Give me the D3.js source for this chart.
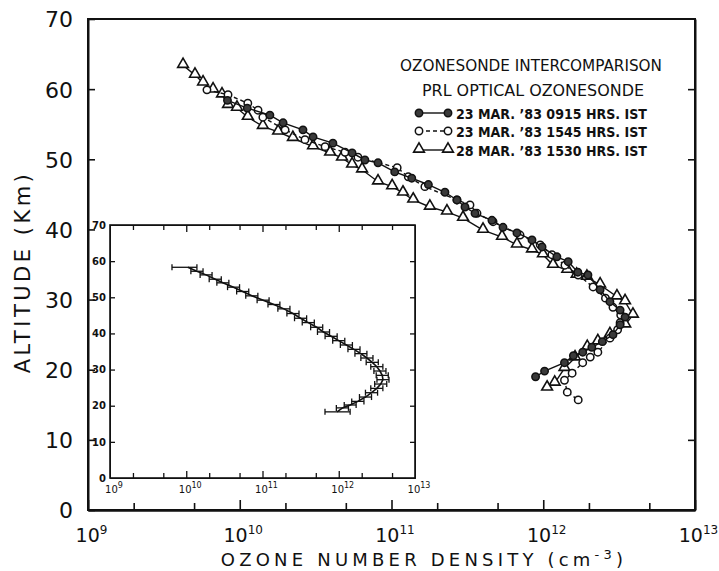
<!DOCTYPE html>
<html>
<head>
<meta charset="utf-8">
<script src="https://cdn.jsdelivr.net/npm/d3@7"></script>
<style>
  body { margin: 0; background: #fff; }
  svg { display: block; }
  text { font-family: "DejaVu Sans", sans-serif; fill: #111; }
  .axis path, .axis line { stroke: #111; }
</style>
</head>
<body>
<svg id="chart" width="719" height="571"></svg>
<script>
/*******************************************************************************
 * Data: altitude (km) and ozone number density (cm^-3)
 *******************************************************************************/
const seriesLabels = ['23 MAR. \u201983  0915 HRS. IST',
                      '23 MAR. \u201983  1545 HRS. IST',
                      '28 MAR. \u201983  1530 HRS. IST'];

// 23 MAR '83 0915 HRS IST (filled circles)
const morningAltitude = [58.4, 57.3, 56.3, 55.2, 54.2, 53.2, 52.3, 50.9, 49.9, 49.5, 48.2, 47.3, 46.4,
  45.3, 44.2, 43.2, 42.3, 41.3, 40.3, 39.5, 38.5, 37.5, 36.1, 35.4, 33.9, 33.5, 31.4, 29.7, 28.5,
  27.5, 26.4, 25.0, 24.0, 23.2, 22.5, 22.0, 21.0, 19.8, 19.0];
const morningDensity = [8.3e9, 1.12e10, 1.58e10, 1.93e10, 2.61e10, 3.04e10, 4.11e10, 5.5e10, 6.68e10, 8.15e10,
  1.05e11, 1.36e11, 1.75e11, 2.25e11, 2.7e11, 3.05e11, 3.55e11, 4.59e11, 5.43e11, 6.71e11, 8.43e11,
  9.82e11, 1.23e12, 1.46e12, 1.69e12, 1.97e12, 2.37e12, 2.75e12, 3.21e12, 3.46e12, 3.21e12, 2.88e12,
  2.45e12, 2.09e12, 1.82e12, 1.58e12, 1.38e12, 1.02e12, 8.9e11];

// 23 MAR '83 1545 HRS IST (open circles, dashed)
const afternoonAltitude = [59.9, 59.2, 58.0, 57.0, 56.0, 54.2, 52.8, 51.8, 51.0, 50.3, 48.8, 47.5, 46.1,
  44.2, 43.5, 42.3, 41.1, 39.2, 37.8, 36.4, 34.9, 33.5, 31.8, 30.2, 28.9, 27.8, 26.7, 25.7, 24.5,
  22.5, 21.8, 21.0, 19.5, 18.5, 16.8, 15.7];
const afternoonDensity = [6.08e9, 8.37e9, 1.13e10, 1.32e10, 1.42e10, 1.99e10, 2.69e10, 3.65e10, 4.94e10,
  6.01e10, 1.09e11, 1.29e11, 1.66e11, 2.7e11, 3.29e11, 3.66e11, 4.67e11, 7.03e11, 9.55e11, 1.14e12,
  1.39e12, 1.7e12, 2.13e12, 2.57e12, 2.88e12, 3.24e12, 3.21e12, 3.09e12, 2.75e12, 2.29e12, 2.04e12,
  1.82e12, 1.55e12, 1.38e12, 1.44e12, 1.7e12];

// 28 MAR '83 1530 HRS IST (triangles)
const lateAltitude = [63.4, 62.0, 60.9, 59.9, 59.2, 57.7, 57.3, 56.0, 54.7, 53.9, 53.0, 51.8, 50.9, 50.2,
  49.2, 48.5, 46.8, 46.1, 45.2, 44.2, 43.2, 42.5, 41.6, 39.9, 38.9, 37.8, 37.1, 36.4, 34.9, 34.2,
  33.5, 33.2, 32.1, 30.4, 29.7, 27.8, 26.4, 25.0, 24.0, 23.2, 21.7, 20.2, 18.1, 17.4];
const lateDensity = [4.23e9, 5.07e9, 5.73e9, 6.67e9, 7.64e9, 8.37e9, 9.59e9, 1.13e10, 1.42e10, 1.79e10,
  2.24e10, 3.04e10, 3.94e10, 4.72e10, 5.5e10, 6.4e10, 8.15e10, 1.01e11, 1.19e11, 1.39e11, 1.79e11,
  2.32e11, 2.96e11, 4.01e11, 5.35e11, 6.71e11, 8.43e11, 9.95e11, 1.16e12, 1.44e12, 1.66e12, 1.94e12,
  2.37e12, 3.06e12, 3.46e12, 3.9e12, 3.47e12, 2.75e12, 2.29e12, 1.95e12, 1.62e12, 1.38e12, 1.19e12,
  1.06e12];

// Inset: mean profile with horizontal error bars
const insetAltitude = [58.3, 57.2, 56.2, 55.0, 54.0, 52.8, 51.6, 50.4, 49.2, 48.0, 46.8, 45.5, 44.2, 43.0,
  41.7, 40.4, 39.2, 38.0, 36.8, 35.6, 34.4, 33.2, 32.0, 30.8, 29.6, 28.4, 27.2, 26.0, 24.8, 23.6,
  22.4, 21.2, 20.2, 19.4, 18.3];
const insetDensity = [1.05e10, 1.38e10, 1.82e10, 2.4e10, 3.02e10, 4.17e10, 5.5e10, 7.24e10, 1.02e11,
  1.41e11, 1.91e11, 2.51e11, 3.16e11, 3.98e11, 5.13e11, 6.31e11, 7.94e11, 1.0e12, 1.26e12, 1.58e12,
  1.95e12, 2.34e12, 2.75e12, 3.16e12, 3.47e12, 3.72e12, 3.8e12, 3.55e12, 3.16e12, 2.69e12, 2.24e12,
  1.78e12, 1.41e12, 1.12e12, 9.5e11];
const insetLow = [6.5e9, 1.15e10, 1.52e10, 2.0e10, 2.52e10, 3.48e10, 4.58e10, 6.03e10, 8.5e10, 1.18e11,
  1.59e11, 2.09e11, 2.63e11, 3.32e11, 4.28e11, 5.26e11, 6.62e11, 8.33e11, 1.05e12, 1.32e12, 1.63e12,
  1.95e12, 2.29e12, 2.63e12, 2.89e12, 3.1e12, 3.17e12, 2.96e12, 2.63e12, 2.24e12, 1.87e12, 1.48e12,
  1.18e12, 9.3e11, 6.6e11];
const insetHigh = [1.38e10, 1.66e10, 2.18e10, 2.88e10, 3.62e10, 5.0e10, 6.6e10, 8.69e10, 1.22e11, 1.69e11,
  2.29e11, 3.01e11, 3.79e11, 4.78e11, 6.16e11, 7.57e11, 9.53e11, 1.2e12, 1.51e12, 1.9e12, 2.34e12,
  2.81e12, 3.3e12, 3.79e12, 4.16e12, 4.46e12, 4.56e12, 4.26e12, 3.79e12, 3.23e12, 2.69e12, 2.14e12,
  1.69e12, 1.34e12, 1.41e12];

// Axis ticks
const decadeTicks = [1e9, 1e10, 1e11, 1e12, 1e13];
const minorTicks = [2e9, 5e9, 2e10, 5e10, 2e11, 5e11, 2e12, 5e12];
const altitudeTicks = [0, 10, 20, 30, 40, 50, 60, 70];


/*******************************************************************************
 * Setup
 *******************************************************************************/
let svg = d3.select('#chart');

let x = d3.scaleLog().domain([1e9, 1e13]).range([88, 695]);
let y = d3.scaleLinear().domain([0, 70]).range([510, 19]);

let ix = d3.scaleLog().domain([1e9, 1e13]).range([110, 415]);
let iy = d3.scaleLinear().domain([0, 70]).range([478, 225]);

function exponent(v) { return Math.round(Math.log10(v)); }

// superscript label "10^n" inside a tick group
function powerLabel(sel, big, small, dy, sup, dx) {
  let t = sel.append('text')
    .attr('x', dx).attr('y', dy)
    .attr('text-anchor', 'middle')
    .style('font-size', big + 'px')
    .style('fill', '#111');
  t.append('tspan').text('10');
  t.append('tspan')
    .attr('dy', -sup)
    .style('font-size', small + 'px')
    .text(d => exponent(d));
}

/*******************************************************************************
 * Main frame and axes
 *******************************************************************************/
svg.append('rect')
  .attr('x', x.range()[0]).attr('y', y(70))
  .attr('width', x.range()[1] - x.range()[0])
  .attr('height', y(0) - y(70))
  .attr('fill', 'none').attr('stroke', '#111').attr('stroke-width', 2);

svg.append('g').attr('class', 'axis')
  .attr('transform', `translate(0,${y(0)})`)
  .call(d3.axisBottom(x).tickValues(minorTicks).tickSize(-7).tickSizeOuter(0).tickFormat(''));

let xMajor = svg.append('g').attr('class', 'axis')
  .attr('transform', `translate(0,${y(0)})`)
  .call(d3.axisBottom(x).tickValues(decadeTicks).tickSize(-10).tickSizeOuter(0).tickFormat(''));
xMajor.selectAll('.tick').call(powerLabel, 19, 12, 32, 8, 3);

let yLeft = svg.append('g').attr('class', 'axis')
  .attr('transform', `translate(${x.range()[0]},0)`)
  .call(d3.axisLeft(y).tickValues(altitudeTicks).tickSize(-7).tickSizeOuter(0).tickPadding(15));
yLeft.selectAll('.tick text')
  .style('font-size', '22px')
  .style('font-family', '"DejaVu Sans", sans-serif')
  .attr('dy', '0.36em');

svg.append('g').attr('class', 'axis')
  .attr('transform', `translate(${x.range()[1]},0)`)
  .call(d3.axisRight(y).tickValues(altitudeTicks.slice(1, -1)).tickSize(-7).tickSizeOuter(0).tickFormat(''));

svg.selectAll('.axis path').attr('stroke-width', 2);
svg.selectAll('.axis line').attr('stroke-width', 1.6);

// axis titles
svg.append('text')
  .attr('transform', 'translate(30,272) rotate(-90)')
  .attr('text-anchor', 'middle')
  .style('font-size', '21px')
  .style('letter-spacing', '3.5px')
  .text('ALTITUDE (Km)');

let xTitle = svg.append('text')
  .attr('x', 424).attr('y', 566)
  .attr('text-anchor', 'middle')
  .style('font-size', '18px')
  .style('letter-spacing', '4.2px');
xTitle.append('tspan').text('OZONE NUMBER DENSITY (cm');
xTitle.append('tspan').attr('dy', -7).style('font-size', '13px').text('-3');
xTitle.append('tspan').attr('dy', 7).text(')');

/*******************************************************************************
 * Main profiles
 *******************************************************************************/
let morning = d3.zip(morningDensity, morningAltitude);
let afternoon = d3.zip(afternoonDensity, afternoonAltitude);
let late = d3.zip(lateDensity, lateAltitude);

let line = d3.line().x(d => x(d[0])).y(d => y(d[1]));
let triangle = d3.symbol(d3.symbolTriangle, 50);

let plot = svg.append('g');

function drawTriangles(g, data, sx, sy) {
  g.selectAll(null).data(data).enter().append('path')
    .attr('d', triangle)
    .attr('transform', d => `translate(${sx(d)},${sy(d) - 1})`)
    .attr('fill', '#fff').attr('stroke', '#111').attr('stroke-width', 1.6);
}
function drawCircles(g, data, sx, sy, fill) {
  g.selectAll(null).data(data).enter().append('circle')
    .attr('cx', sx).attr('cy', sy).attr('r', 3.7)
    .attr('fill', fill).attr('stroke', '#111').attr('stroke-width', 1.5);
}

plot.append('path').datum(late).attr('d', line)
  .attr('fill', 'none').attr('stroke', '#111').attr('stroke-width', 1.4);
drawTriangles(plot, late, d => x(d[0]), d => y(d[1]));

plot.append('path').datum(afternoon).attr('d', line)
  .attr('fill', 'none').attr('stroke', '#111').attr('stroke-width', 1.4)
  .attr('stroke-dasharray', '4,3');
drawCircles(plot, afternoon, d => x(d[0]), d => y(d[1]), '#fff');

plot.append('path').datum(morning).attr('d', line)
  .attr('fill', 'none').attr('stroke', '#111').attr('stroke-width', 1.4);
drawCircles(plot, morning, d => x(d[0]), d => y(d[1]), '#3a3a3a');

/*******************************************************************************
 * Legend
 *******************************************************************************/
let legend = svg.append('g');
legend.append('text').attr('x', 531).attr('y', 71).attr('text-anchor', 'middle')
  .attr('textLength', 262).attr('lengthAdjust', 'spacingAndGlyphs')
  .style('font-size', '16px').text('OZONESONDE  INTERCOMPARISON');
legend.append('text').attr('x', 533).attr('y', 96).attr('text-anchor', 'middle')
  .attr('textLength', 222).attr('lengthAdjust', 'spacingAndGlyphs')
  .style('font-size', '16px').text('PRL OPTICAL OZONESONDE');

let rowY = [113, 131, 150];
let rowStyles = [{dash: null, kind: 'filled'}, {dash: '4,3', kind: 'open'}, {dash: null, kind: 'tri'}];
rowStyles.forEach((s, i) => {
  let row = legend.append('g');
  row.append('line').attr('x1', 419).attr('x2', 448).attr('y1', rowY[i]).attr('y2', rowY[i])
    .attr('stroke', '#111').attr('stroke-width', 1.4).attr('stroke-dasharray', s.dash);
  let ends = [[419, rowY[i]], [448, rowY[i]]];
  if (s.kind === 'tri') drawTriangles(row, ends, d => d[0], d => d[1]);
  else drawCircles(row, ends, d => d[0], d => d[1], s.kind === 'filled' ? '#3a3a3a' : '#fff');
  row.append('text').attr('x', 456).attr('y', rowY[i] + 5.5)
    .attr('textLength', 191).attr('lengthAdjust', 'spacingAndGlyphs')
    .style('font-size', '14px').style('font-weight', 'bold')
    .text(seriesLabels[i]);
});

/*******************************************************************************
 * Inset
 *******************************************************************************/
let inset = svg.append('g');
inset.append('rect')
  .attr('x', ix.range()[0]).attr('y', iy(70))
  .attr('width', ix.range()[1] - ix.range()[0])
  .attr('height', iy(0) - iy(70))
  .attr('fill', '#fff').attr('stroke', '#111').attr('stroke-width', 1.6);

[[d3.axisBottom, iy(0)], [d3.axisTop, iy(70)]].forEach(([axisFn, pos]) => {
  inset.append('g').attr('class', 'axis').attr('transform', `translate(0,${pos})`)
    .call(axisFn(ix).tickValues(minorTicks).tickSize(-5).tickSizeOuter(0).tickFormat(''));
  inset.append('g').attr('class', 'axis').attr('transform', `translate(0,${pos})`)
    .call(axisFn(ix).tickValues(decadeTicks.slice(1, -1)).tickSize(-7).tickSizeOuter(0).tickFormat(''));
});

inset.append('g').attr('transform', `translate(0,${iy(0)})`)
  .selectAll('g').data(decadeTicks).enter().append('g')
  .attr('transform', d => `translate(${ix(d)},0)`)
  .call(powerLabel, 10, 8, 15, 5, 4);

let iLeft = inset.append('g').attr('class', 'axis')
  .attr('transform', `translate(${ix.range()[0]},0)`)
  .call(d3.axisLeft(iy).tickValues(altitudeTicks.slice(1, -1)).tickSize(-5).tickSizeOuter(0).tickPadding(4));
iLeft.selectAll('.tick text')
  .style('font-size', '10px').style('font-weight', 'bold')
  .style('font-family', '"DejaVu Sans", sans-serif');
inset.append('g').selectAll('text').data([0, 70]).enter().append('text')
  .attr('x', ix.range()[0] - 4).attr('y', d => iy(d)).attr('dy', '0.35em')
  .attr('text-anchor', 'end')
  .style('font-size', '10px').style('font-weight', 'bold')
  .text(d => d);

inset.append('g').attr('class', 'axis')
  .attr('transform', `translate(${ix.range()[1]},0)`)
  .call(d3.axisRight(iy).tickValues(altitudeTicks.slice(1, -1)).tickSize(-5).tickSizeOuter(0).tickFormat(''));

inset.selectAll('.axis path').attr('stroke', 'none');
inset.selectAll('.axis line').attr('stroke-width', 1.3);

let mean = d3.zip(insetDensity, insetAltitude, insetLow, insetHigh);
let iline = d3.line().x(d => ix(d[0])).y(d => iy(d[1]));
inset.append('path').datum(mean).attr('d', iline)
  .attr('fill', 'none').attr('stroke', '#111').attr('stroke-width', 1.6);

let bars = inset.append('g').selectAll('g').data(mean).enter().append('g');
bars.append('line')
  .attr('x1', d => ix(d[2])).attr('x2', d => ix(d[3]))
  .attr('y1', d => iy(d[1])).attr('y2', d => iy(d[1]))
  .attr('stroke', '#111').attr('stroke-width', 1.3);
bars.append('line')
  .attr('x1', d => ix(d[2])).attr('x2', d => ix(d[2]))
  .attr('y1', d => iy(d[1]) - 3).attr('y2', d => iy(d[1]) + 3)
  .attr('stroke', '#111').attr('stroke-width', 1.3);
bars.append('line')
  .attr('x1', d => ix(d[3])).attr('x2', d => ix(d[3]))
  .attr('y1', d => iy(d[1]) - 3).attr('y2', d => iy(d[1]) + 3)
  .attr('stroke', '#111').attr('stroke-width', 1.3);
</script>
</body>
</html>
